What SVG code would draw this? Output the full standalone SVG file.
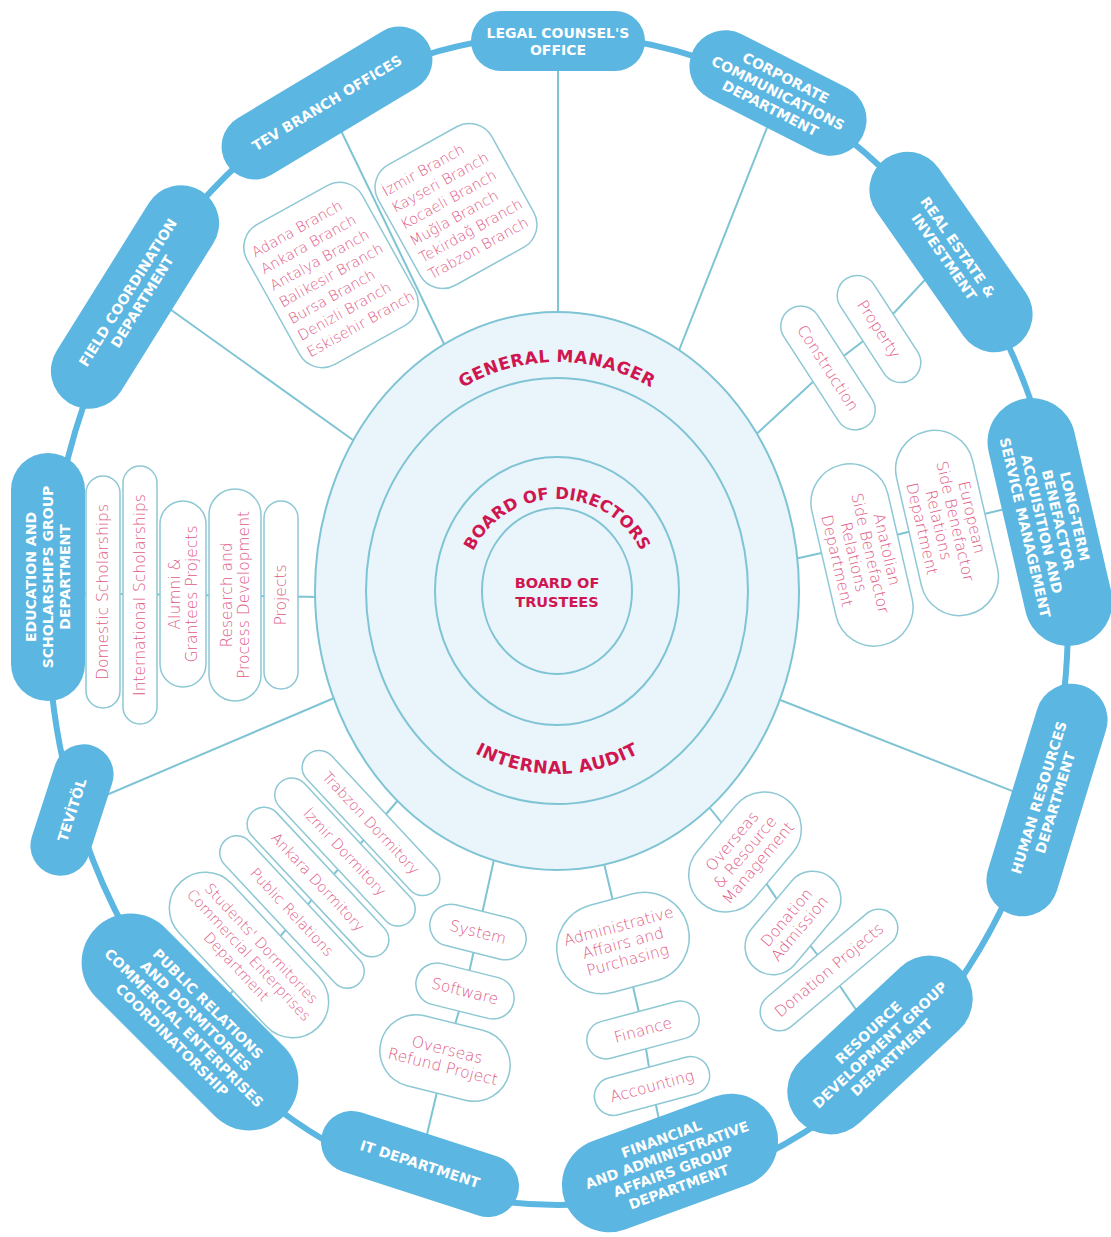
<svg xmlns="http://www.w3.org/2000/svg" xmlns:xlink="http://www.w3.org/1999/xlink" width="1111" height="1237" viewBox="0 0 1111 1237">
<defs>
<style>
.ring{fill:none;stroke:#5bb6e1;stroke-width:6}
.conn line,.conn polyline{stroke:#7fc4d4;stroke-width:2;fill:none}
.circ{fill:#eaf4fb;stroke:#7fc4d4;stroke-width:2}
.dept rect{fill:#5bb6e1}
.dept text{fill:#fff;font-family:"DejaVu Sans","Liberation Sans",sans-serif;font-weight:bold;font-size:14px;text-anchor:middle}
.unit rect{fill:#fff;stroke:#8ec8d4;stroke-width:1.5}
.unit text{fill:#e05a86;font-family:"DejaVu Sans","Liberation Sans",sans-serif;font-weight:200;font-size:15.5px;text-anchor:middle}
.unit text.sm{font-size:14.5px}
.box text{text-anchor:start;font-size:14.5px}
.core{fill:#cf1650;font-family:"DejaVu Sans","Liberation Sans",sans-serif;font-weight:bold;text-anchor:middle}
</style>
<path id="gm-path" d="M352 591 A205 229 0 0 1 762 591"/>
<path id="ia-path" d="M379 591 A178 183 0 0 0 735 591"/>
<path id="bod-path" d="M464 591 A93 92 0 0 1 650 591"/>
</defs>
<rect width="1111" height="1237" fill="#fff"/>
<ellipse class="ring" cx="558" cy="620" rx="510" ry="585"/>

<g id="connectors" class="conn">
<line x1="558" y1="60" x2="558" y2="330"/>
<line x1="772" y1="115" x2="676" y2="358"/>
<polyline points="951,252 879,329 828,368 750,440"/>
<line x1="1005" y1="509" x2="980" y2="515"/>
<line x1="912" y1="531" x2="892" y2="536"/>
<line x1="826" y1="552" x2="790" y2="560"/>
<line x1="1030" y1="798" x2="770" y2="696"/>
<polyline points="705,802 745,852 793,923 829,970 880,1045"/>
<polyline points="602,855 623,943 643,1030 652,1086 668,1163"/>
<polyline points="495,855 478,932 465,991 445,1058 420,1164"/>
<line x1="400" y1="798" x2="225" y2="1000"/>
<line x1="90" y1="802" x2="360" y2="687"/>
<line x1="60" y1="593" x2="320" y2="597"/>
<line x1="160" y1="302" x2="360" y2="445"/>
<line x1="330" y1="108" x2="447" y2="350"/>
</g>

<g id="general-manager">
<ellipse class="circ" cx="557" cy="591" rx="242" ry="279"/>
<text class="core" font-size="17" letter-spacing="0.5"><textPath xlink:href="#gm-path" startOffset="50%">GENERAL MANAGER</textPath></text>
</g>
<g id="internal-audit">
<ellipse class="circ" cx="557" cy="591" rx="191" ry="213"/>
<text class="core" font-size="17.5" letter-spacing="0.5"><textPath xlink:href="#ia-path" startOffset="50%">INTERNAL AUDIT</textPath></text>
</g>
<g id="board-of-directors">
<ellipse class="circ" cx="557" cy="591" rx="122" ry="134"/>
<text class="core" font-size="16.5"><textPath xlink:href="#bod-path" startOffset="50%">BOARD OF DIRECTORS</textPath></text>
</g>
<g id="board-of-trustees">
<ellipse class="circ" cx="557" cy="591" rx="75" ry="83"/>
<text class="core" font-size="14.5"><tspan x="557" y="588">BOARD OF</tspan><tspan x="557" y="607">TRUSTEES</tspan></text>
</g>

<g id="legal-counsel" class="dept" transform="translate(558,41)">
<rect x="-87" y="-30" width="174" height="60" rx="30"/>
<text><tspan x="0" y="-3.5">LEGAL COUNSEL'S</tspan><tspan x="0" y="13.5">OFFICE</tspan></text>
</g>
<g id="corporate-communications" class="dept" transform="translate(778,93) rotate(27)">
<rect x="-95" y="-36" width="190" height="72" rx="36"/>
<text><tspan x="0" y="-12">CORPORATE</tspan><tspan x="0" y="5">COMMUNICATIONS</tspan><tspan x="0" y="22">DEPARTMENT</tspan></text>
</g>
<g id="real-estate" class="dept" transform="translate(951,252) rotate(55)">
<rect x="-114" y="-38" width="228" height="76" rx="38"/>
<text><tspan x="0" y="-3.5">REAL ESTATE &amp;</tspan><tspan x="0" y="13.5">INVESTMENT</tspan></text>
</g>
<g id="long-term-benefactor" class="dept" transform="translate(1050,522) rotate(77)">
<rect x="-126" y="-44" width="252" height="88" rx="44"/>
<text><tspan x="0" y="-20.5">LONG-TERM</tspan><tspan x="0" y="-3.5">BENEFACTOR</tspan><tspan x="0" y="13.5">ACQUISITION AND</tspan><tspan x="0" y="30.5">SERVICE MANAGEMENT</tspan></text>
</g>
<g id="human-resources" class="dept" transform="translate(1047,800) rotate(-73)">
<rect x="-120" y="-36" width="240" height="72" rx="36"/>
<text><tspan x="0" y="-3.5">HUMAN RESOURCES</tspan><tspan x="0" y="13.5">DEPARTMENT</tspan></text>
</g>
<g id="resource-development" class="dept" transform="translate(880,1045) rotate(-43)">
<rect x="-111" y="-43" width="222" height="86" rx="43"/>
<text><tspan x="0" y="-12">RESOURCE</tspan><tspan x="0" y="5">DEVELOPMENT GROUP</tspan><tspan x="0" y="22">DEPARTMENT</tspan></text>
</g>
<g id="financial-administrative" class="dept" transform="translate(670,1163) rotate(-20)">
<rect x="-112" y="-47" width="224" height="94" rx="47"/>
<text><tspan x="0" y="-20.5">FINANCIAL</tspan><tspan x="0" y="-3.5">AND ADMINISTRATIVE</tspan><tspan x="0" y="13.5">AFFAIRS GROUP</tspan><tspan x="0" y="30.5">DEPARTMENT</tspan></text>
</g>
<g id="it-department" class="dept" transform="translate(420,1164) rotate(18)">
<rect x="-102.5" y="-31" width="205" height="62" rx="31"/>
<text><tspan x="0" y="5">IT DEPARTMENT</tspan></text>
</g>
<g id="public-relations-coordinatorship" class="dept" transform="translate(190,1022) rotate(45)">
<rect x="-133" y="-49" width="266" height="98" rx="49"/>
<text><tspan x="0" y="-20.5">PUBLIC RELATIONS</tspan><tspan x="0" y="-3.5">AND DORMITORIES</tspan><tspan x="0" y="13.5">COMMERCIAL ENTERPRISES</tspan><tspan x="0" y="30.5">COORDINATORSHIP</tspan></text>
</g>
<g id="tevitol" class="dept" transform="translate(72,810) rotate(-72)">
<rect x="-67.5" y="-30" width="135" height="60" rx="30"/>
<text><tspan x="0" y="5">TEVİTÖL</tspan></text>
</g>
<g id="education-scholarships" class="dept" transform="translate(48,577) rotate(-90)">
<rect x="-124" y="-37" width="248" height="74" rx="37"/>
<text><tspan x="0" y="-12">EDUCATION AND</tspan><tspan x="0" y="5">SCHOLARSHIPS GROUP</tspan><tspan x="0" y="22">DEPARTMENT</tspan></text>
</g>
<g id="field-coordination" class="dept" transform="translate(135,297) rotate(-58)">
<rect x="-125" y="-38" width="250" height="76" rx="38"/>
<text><tspan x="0" y="-3.5">FIELD COORDINATION</tspan><tspan x="0" y="13.5">DEPARTMENT</tspan></text>
</g>
<g id="tev-branch-offices" class="dept" transform="translate(327,103) rotate(-31)">
<rect x="-117.5" y="-33" width="235" height="66" rx="33"/>
<text><tspan x="0" y="5">TEV BRANCH OFFICES</tspan></text>
</g>

<g id="branches-a" class="unit box" transform="translate(331,275) rotate(-29)">
<rect x="-66" y="-80" width="132" height="160" rx="26"/>
<text><tspan x="-58" y="-51.8">Adana Branch</tspan><tspan x="-58" y="-32.8">Ankara Branch</tspan><tspan x="-58" y="-13.8">Antalya Branch</tspan><tspan x="-58" y="5.2">Balikesir Branch</tspan><tspan x="-58" y="24.2">Bursa Branch</tspan><tspan x="-58" y="43.2">Denizli Branch</tspan><tspan x="-58" y="62.2">Eskisehir Branch</tspan></text>
</g>
<g id="branches-b" class="unit box" transform="translate(456,206) rotate(-29)">
<rect x="-65" y="-69" width="130" height="138" rx="26"/>
<text><tspan x="-57" y="-42.3">İzmir Branch</tspan><tspan x="-57" y="-23.3">Kayseri Branch</tspan><tspan x="-57" y="-4.3">Kocaeli Branch</tspan><tspan x="-57" y="14.7">Muğla Branch</tspan><tspan x="-57" y="33.7">Tekirdağ Branch</tspan><tspan x="-57" y="52.7">Trabzon Branch</tspan></text>
</g>

<g id="property" class="unit" transform="translate(879,329) rotate(57)">
<rect x="-60" y="-20" width="120" height="40" rx="20"/>
<text><tspan x="0" y="5.4">Property</tspan></text>
</g>
<g id="construction" class="unit" transform="translate(828,368) rotate(57)">
<rect x="-70" y="-20" width="140" height="40" rx="20"/>
<text><tspan x="0" y="5.4">Construction</tspan></text>
</g>
<g id="european-side" class="unit" transform="translate(947,523) rotate(77)">
<rect x="-94" y="-39" width="188" height="78" rx="39"/>
<text><tspan x="0" y="-20.1">European</tspan><tspan x="0" y="-3.1">Side Benefactor</tspan><tspan x="0" y="13.9">Relations</tspan><tspan x="0" y="30.9">Department</tspan></text>
</g>
<g id="anatolian-side" class="unit" transform="translate(862,555) rotate(77)">
<rect x="-92.5" y="-39" width="185" height="78" rx="39"/>
<text><tspan x="0" y="-20.1">Anatolian</tspan><tspan x="0" y="-3.1">Side Benefactor</tspan><tspan x="0" y="13.9">Relations</tspan><tspan x="0" y="30.9">Department</tspan></text>
</g>
<g id="overseas-resource" class="unit" transform="translate(745,852) rotate(-50)">
<rect x="-67" y="-37" width="134" height="74" rx="37"/>
<text><tspan x="0" y="-11.6">Overseas</tspan><tspan x="0" y="5.4">&amp; Resource</tspan><tspan x="0" y="22.4">Management</tspan></text>
</g>
<g id="donation-admission" class="unit" transform="translate(793,923) rotate(-50)">
<rect x="-59" y="-28" width="118" height="56" rx="28"/>
<text><tspan x="0" y="-3.1">Donation</tspan><tspan x="0" y="13.9">Admission</tspan></text>
</g>
<g id="donation-projects" class="unit" transform="translate(829,970) rotate(-40)">
<rect x="-84" y="-19" width="168" height="38" rx="19"/>
<text><tspan x="0" y="5.4">Donation Projects</tspan></text>
</g>
<g id="administrative-affairs" class="unit" transform="translate(623,943) rotate(-15)">
<rect x="-67" y="-45" width="134" height="90" rx="45"/>
<text><tspan x="0" y="-12.1">Administrative</tspan><tspan x="0" y="5.4">Affairs and</tspan><tspan x="0" y="22.9">Purchasing</tspan></text>
</g>
<g id="finance" class="unit" transform="translate(643,1030) rotate(-15)">
<rect x="-57.5" y="-19" width="115" height="38" rx="19"/>
<text><tspan x="0" y="5.4">Finance</tspan></text>
</g>
<g id="accounting" class="unit" transform="translate(652,1086) rotate(-15)">
<rect x="-59" y="-19" width="118" height="38" rx="19"/>
<text><tspan x="0" y="5.4">Accounting</tspan></text>
</g>
<g id="system" class="unit" transform="translate(478,932) rotate(14)">
<rect x="-49" y="-21" width="98" height="42" rx="21"/>
<text><tspan x="0" y="5.4">System</tspan></text>
</g>
<g id="software" class="unit" transform="translate(465,991) rotate(14)">
<rect x="-50" y="-21" width="100" height="42" rx="21"/>
<text><tspan x="0" y="5.4">Software</tspan></text>
</g>
<g id="overseas-refund" class="unit" transform="translate(445,1058) rotate(14)">
<rect x="-66" y="-36" width="132" height="72" rx="36"/>
<text><tspan x="0" y="-3.35">Overseas</tspan><tspan x="0" y="14.15">Refund Project</tspan></text>
</g>
<g id="trabzon-dormitory" class="unit" transform="translate(371,823) rotate(47)">
<rect x="-93" y="-17" width="186" height="34" rx="17"/>
<text class="sm"><tspan x="0" y="5.2">Trabzon Dormitory</tspan></text>
</g>
<g id="izmir-dormitory" class="unit" transform="translate(345,852) rotate(47)">
<rect x="-95" y="-17" width="190" height="34" rx="17"/>
<text class="sm"><tspan x="0" y="5.2">İzmir Dormitory</tspan></text>
</g>
<g id="ankara-dormitory" class="unit" transform="translate(318,882) rotate(47)">
<rect x="-96" y="-17" width="192" height="34" rx="17"/>
<text class="sm"><tspan x="0" y="5.2">Ankara Dormitory</tspan></text>
</g>
<g id="public-relations" class="unit" transform="translate(292,912) rotate(47)">
<rect x="-98" y="-17" width="196" height="34" rx="17"/>
<text class="sm"><tspan x="0" y="5.2">Public Relations</tspan></text>
</g>
<g id="students-dormitories" class="unit" transform="translate(249,955) rotate(47)">
<rect x="-100" y="-36" width="200" height="72" rx="36"/>
<text class="sm"><tspan x="0" y="-11.8">Students' Dormitories</tspan><tspan x="0" y="5.2">Commercial Enterprises</tspan><tspan x="0" y="22.2">Department</tspan></text>
</g>
<g id="domestic-scholarships" class="unit" transform="translate(103,592) rotate(-90)">
<rect x="-116" y="-17" width="232" height="34" rx="17"/>
<text><tspan x="0" y="5.4">Domestic Scholarships</tspan></text>
</g>
<g id="international-scholarships" class="unit" transform="translate(140,595) rotate(-90)">
<rect x="-129" y="-17" width="258" height="34" rx="17"/>
<text><tspan x="0" y="5.4">International Scholarships</tspan></text>
</g>
<g id="alumni-grantees" class="unit" transform="translate(183,594) rotate(-90)">
<rect x="-93" y="-23" width="186" height="46" rx="23"/>
<text><tspan x="0" y="-3.1">Alumni &amp;</tspan><tspan x="0" y="13.9">Grantees Projects</tspan></text>
</g>
<g id="research-process" class="unit" transform="translate(235,595) rotate(-90)">
<rect x="-106" y="-26" width="212" height="52" rx="26"/>
<text><tspan x="0" y="-3.1">Research and</tspan><tspan x="0" y="13.9">Process Development</tspan></text>
</g>
<g id="projects" class="unit" transform="translate(281,595) rotate(-90)">
<rect x="-94" y="-17" width="188" height="34" rx="17"/>
<text><tspan x="0" y="5.4">Projects</tspan></text>
</g>
</svg>
